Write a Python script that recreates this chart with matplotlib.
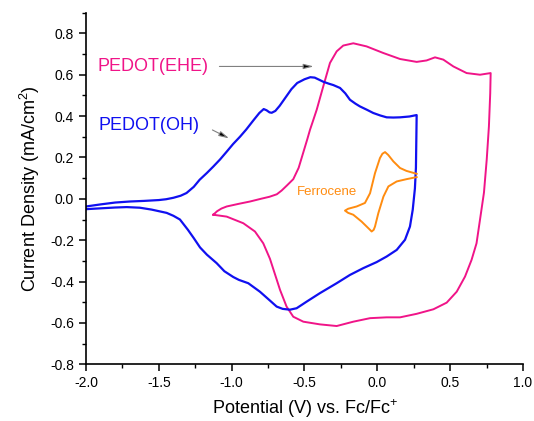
import matplotlib
matplotlib.use('Agg')
import numpy as np
import matplotlib.pyplot as plt
from matplotlib.ticker import MultipleLocator, FuncFormatter

plt.rcParams['font.family'] = ['Liberation Sans', 'DejaVu Sans']
plt.rcParams['mathtext.fontset'] = 'custom'
plt.rcParams['mathtext.rm'] = 'Liberation Sans'
plt.rcParams['mathtext.it'] = 'Liberation Sans'

# PEDOT(OH): anodic branch left->right, then cathodic branch right->left
oh_x = [-2.00, -1.90, -1.80, -1.70, -1.60, -1.50, -1.45, -1.40, -1.35, -1.31,
        -1.26, -1.22, -1.17, -1.126, -1.08, -1.034, -0.99, -0.943, -0.90, -0.85,
        -0.81, -0.78, -0.76, -0.74, -0.725, -0.70, -0.67, -0.63, -0.59, -0.55,
        -0.50, -0.46, -0.43, -0.40, -0.371, -0.33, -0.302, -0.256, -0.22, -0.188,
        -0.15, -0.12, -0.07, -0.028, 0.02, 0.064, 0.11, 0.156, 0.22, 0.27,
        0.268, 0.265, 0.258, 0.243, 0.224, 0.19, 0.133, 0.064, -0.005, -0.096,
        -0.188, -0.279, -0.394, -0.485, -0.554, -0.60, -0.65, -0.691, -0.737, -0.806,
        -0.886, -0.95, -0.989, -1.05, -1.103, -1.17, -1.217, -1.26, -1.30, -1.355,
        -1.40, -1.446, -1.55, -1.63, -1.72, -1.80, -1.90, -2.00]
oh_y = [-0.037, -0.027, -0.018, -0.013, -0.010, -0.006, -0.002, 0.005, 0.015, 0.028,
        0.058, 0.092, 0.125, 0.156, 0.19, 0.228, 0.265, 0.300, 0.335, 0.38,
        0.415, 0.434, 0.428, 0.418, 0.416, 0.425, 0.45, 0.49, 0.53, 0.56,
        0.578, 0.588, 0.586, 0.576, 0.566, 0.556, 0.550, 0.536, 0.51, 0.479,
        0.46, 0.447, 0.43, 0.415, 0.403, 0.394, 0.393, 0.394, 0.398, 0.405,
        0.30, 0.15, 0.05, -0.053, -0.134, -0.198, -0.247, -0.279, -0.306, -0.335,
        -0.368, -0.408, -0.456, -0.497, -0.529, -0.536, -0.532, -0.521, -0.492, -0.449,
        -0.408, -0.392, -0.378, -0.35, -0.311, -0.27, -0.235, -0.19, -0.15, -0.10,
        -0.082, -0.068, -0.052, -0.043, -0.040, -0.042, -0.046, -0.050]

# PEDOT(EHE)
ehe_x = [-1.126, -1.10, -1.07, -1.034, -0.95, -0.874, -0.80, -0.74, -0.69, -0.657,
         -0.62, -0.577, -0.54, -0.51, -0.48, -0.462, -0.44, -0.416, -0.371, -0.325,
         -0.279, -0.234, -0.165, -0.074, 0.041, 0.156, 0.27, 0.338, 0.396, 0.453,
         0.522, 0.613, 0.705, 0.778,
         0.775, 0.766, 0.751, 0.732, 0.705, 0.681, 0.647, 0.602, 0.545, 0.476,
         0.385, 0.27, 0.156, 0.064, -0.05, -0.165, -0.279, -0.394, -0.508, -0.577,
         -0.623, -0.668, -0.69, -0.737, -0.783, -0.84, -0.92, -1.034, -1.126]
ehe_y = [-0.077, -0.060, -0.047, -0.037, -0.024, -0.013, 0.000, 0.010, 0.022, 0.040,
         0.065, 0.095, 0.150, 0.220, 0.29, 0.334, 0.38, 0.431, 0.544, 0.657,
         0.713, 0.741, 0.752, 0.737, 0.705, 0.676, 0.662, 0.669, 0.684, 0.673,
         0.640, 0.608, 0.600, 0.608,
         0.51, 0.35, 0.19, 0.03, -0.10, -0.215, -0.295, -0.376, -0.449, -0.502,
         -0.534, -0.556, -0.573, -0.573, -0.577, -0.594, -0.615, -0.607, -0.594, -0.570,
         -0.521, -0.44, -0.392, -0.29, -0.215, -0.158, -0.118, -0.086, -0.077]

# Ferrocene
fc_x = [0.27, 0.20, 0.156, 0.11, 0.075, 0.053, 0.035, 0.018, -0.016, -0.05,
        -0.085, -0.142, -0.20, -0.222, -0.20, -0.165, -0.108, -0.05, -0.039, -0.025,
        -0.016, 0.007, 0.042, 0.076, 0.133, 0.20, 0.27]
fc_y = [0.121, 0.135, 0.149, 0.181, 0.212, 0.226, 0.218, 0.197, 0.124, 0.027,
        -0.02, -0.037, -0.048, -0.057, -0.068, -0.077, -0.11, -0.15, -0.158, -0.15,
        -0.134, -0.069, 0.011, 0.06, 0.084, 0.095, 0.105]

blue = '#1010F0'
pink = '#F01488'
orange = '#FF8C10'

fig = plt.figure(figsize=(5.34, 4.21), dpi=100)
ax = fig.add_axes([0.161, 0.1347, 0.8184, 0.8352])

ax.plot(ehe_x, ehe_y, color=pink, lw=1.4, solid_joinstyle='round')
ax.plot(oh_x, oh_y, color=blue, lw=1.6, solid_joinstyle='round')
ax.plot(fc_x, fc_y, color=orange, lw=1.4, solid_joinstyle='round')

ax.set_xlim(-2.0, 1.0)
ax.set_ylim(-0.8, 0.9)
ax.xaxis.set_major_locator(MultipleLocator(0.5))
ax.xaxis.set_minor_locator(MultipleLocator(0.25))
ax.set_yticks(np.arange(-0.8, 0.81, 0.2))
ax.yaxis.set_minor_locator(MultipleLocator(0.1))
fmt = FuncFormatter(lambda v, p: '%.1f' % (round(v, 3) + 0.0))
ax.xaxis.set_major_formatter(fmt)
ax.yaxis.set_major_formatter(fmt)

for s in ['top', 'right']:
    ax.spines[s].set_visible(False)
for s in ['left', 'bottom']:
    ax.spines[s].set_linewidth(1.2)
ax.tick_params(which='major', direction='out', length=5, width=1.1, labelsize=10)
ax.tick_params(which='minor', direction='out', length=3, width=1.0)

ax.set_xlabel('Potential (V) vs. Fc/Fc$^{+}$', fontsize=13, labelpad=5)
ax.set_ylabel('Current Density (mA/cm$^{2}$)', fontsize=13, labelpad=6)

ax.text(-1.922, 0.64, 'PEDOT(EHE)', color=pink, fontsize=13, va='center')
ax.text(-1.916, 0.353, 'PEDOT(OH)', color=blue, fontsize=13, va='center')
ax.text(-0.551, 0.034, 'Ferrocene', color=orange, fontsize=9.5, va='center')

ax.annotate('', xy=(-0.417, 0.64), xytext=(-1.103, 0.64),
            arrowprops=dict(arrowstyle='-|>,head_length=0.6,head_width=0.15',
                            ec='gray', fc='black', lw=0.8))
ax.annotate('', xy=(-1.0, 0.286), xytext=(-1.149, 0.339),
            arrowprops=dict(arrowstyle='-|>,head_length=0.6,head_width=0.15',
                            ec='gray', fc='black', lw=0.8))

fig.savefig('out.png', dpi=100)
